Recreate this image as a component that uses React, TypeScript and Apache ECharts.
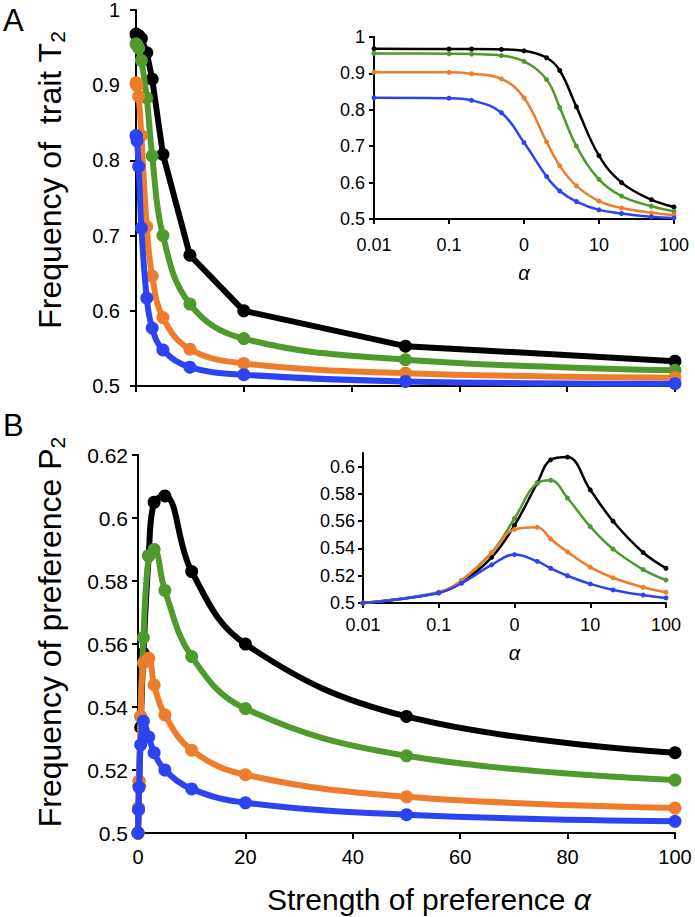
import React, { useEffect, useRef } from "react";
import * as echarts from "echarts";

// strength of preference alpha (main panels) and the same points on the log inset (0 drawn at 0.01)
const alphaMain = [0, 0.1, 0.2, 0.5, 1, 2, 3, 5, 10, 20, 50, 100];
const alphaInset = [0.01, 0.1, 0.2, 0.5, 1, 2, 3, 5, 10, 20, 50, 100];

// Panel A: frequency of trait T2
const traitBlack = [0.968, 0.967, 0.967, 0.966, 0.962, 0.943, 0.908, 0.808, 0.674, 0.6, 0.553, 0.533];
const traitGreen = [0.955, 0.954, 0.953, 0.949, 0.933, 0.883, 0.806, 0.7, 0.609, 0.563, 0.535, 0.521];
const traitOrange = [0.903, 0.903, 0.899, 0.885, 0.833, 0.712, 0.646, 0.591, 0.549, 0.53, 0.517, 0.511];
const traitBlue = [0.833, 0.832, 0.826, 0.792, 0.71, 0.617, 0.577, 0.548, 0.525, 0.515, 0.506, 0.503];

// Panel B: frequency of preference P2
const prefBlack = [0.5, 0.5075, 0.515, 0.5335, 0.557, 0.588, 0.605, 0.607, 0.583, 0.56, 0.537, 0.5255];
const prefGreen = [0.5, 0.508, 0.5165, 0.537, 0.562, 0.588, 0.59, 0.577, 0.556, 0.5395, 0.5245, 0.5168];
const prefOrange = [0.5, 0.5078, 0.5165, 0.537, 0.554, 0.5555, 0.547, 0.5375, 0.5263, 0.5185, 0.5115, 0.5079];
const prefBlue = [0.5, 0.5074, 0.5145, 0.528, 0.5355, 0.5305, 0.5255, 0.52, 0.514, 0.5096, 0.5058, 0.5037];

// tick labels
const mainXTicks = [0, 20, 40, 60, 80, 100];
const traitTicks = [0.5, 0.6, 0.7, 0.8, 0.9, 1];
const prefMainTicks = [0.5, 0.52, 0.54, 0.56, 0.58, 0.6, 0.62];
const prefInsetTicks = [0.5, 0.52, 0.54, 0.56, 0.58, 0.6];
const insetXTicks = [0.01, 0.1, 1, 10, 100];
const insetXLabels = ["0.01", "0.1", "0", "10", "100"];

const COLORS = ["#000000", "#4f9a2c", "#ee7d2b", "#2c43f4"];
const FONT = "'Liberation Sans', Arial, Helvetica, sans-serif";

const pair = (xs: number[], ys: number[]) => xs.map((x, i) => [x, ys[i]]);
const fmt = (v: number) => String(parseFloat(v.toFixed(3)));
const logLabel = (v: number) => insetXLabels[insetXTicks.findIndex((t) => Math.abs(t - v) / t < 1e-6)] ?? "";

export default function App() {
  const ref = useRef<HTMLDivElement>(null);
  useEffect(() => {
    if (!ref.current) return;
    const chart = echarts.init(ref.current, undefined, { renderer: "svg" });

    const axisLine = { show: true, lineStyle: { color: "#000", width: 2 } };
    const axisTick = (len: number) => ({ show: true, inside: false, length: len, lineStyle: { color: "#000", width: 2 } });

    const traitSets = [traitBlack, traitGreen, traitOrange, traitBlue];
    const prefSets = [prefBlack, prefGreen, prefOrange, prefBlue];

    const series: any[] = [];
    traitSets.forEach((d, i) => {
      series.push({
        type: "line", xAxisIndex: 0, yAxisIndex: 0, data: pair(alphaMain, d),
        smooth: i === 0 ? false : 0.4,
        symbol: "circle", symbolSize: 13, lineStyle: { color: COLORS[i], width: 6 },
        itemStyle: { color: COLORS[i] }, z: 2 + i,
      });
      series.push({
        type: "line", xAxisIndex: 1, yAxisIndex: 1, data: pair(alphaInset, d),
        smooth: 0.4,
        symbol: "circle", symbolSize: 5, lineStyle: { color: COLORS[i], width: 2.5 },
        itemStyle: { color: COLORS[i] }, z: 2 + i,
      });
    });
    prefSets.forEach((d, i) => {
      series.push({
        type: "line", xAxisIndex: 2, yAxisIndex: 2, data: pair(alphaMain, d),
        smooth: 0.4,
        symbol: "circle", symbolSize: 13, lineStyle: { color: COLORS[i], width: 6 },
        itemStyle: { color: COLORS[i] }, z: 2 + i,
      });
      series.push({
        type: "line", xAxisIndex: 3, yAxisIndex: 3, data: pair(alphaInset, d),
        smooth: 0.4,
        symbol: "circle", symbolSize: 5, lineStyle: { color: COLORS[i], width: 2.5 },
        itemStyle: { color: COLORS[i] }, z: 2 + i,
      });
    });

    const mainLabel = { color: "#000", fontSize: 20, fontFamily: FONT };
    const insetLabel = { color: "#000", fontSize: 18, fontFamily: FONT };
    const alphaName = { fontSize: 20, fontStyle: "italic", color: "#000", fontFamily: FONT };

    const option: any = {
      animation: false,
      backgroundColor: "#ffffff",
      textStyle: { fontFamily: FONT },
      grid: [
        { left: 136, top: 10, width: 539, height: 376 },
        { left: 374, top: 37, width: 300, height: 182 },
        { left: 138, top: 455, width: 537, height: 378 },
        { left: 363, top: 453, width: 303, height: 150 },
      ],
      xAxis: [
        {
          type: "value", gridIndex: 0, min: 0, max: 100, interval: 20,
          axisLine, axisTick: axisTick(6), splitLine: { show: false },
          axisLabel: { show: false },
        },
        {
          type: "log", gridIndex: 1, min: 0.01, max: 100, logBase: 10,
          axisLine, axisTick: { ...axisTick(5), customValues: insetXTicks }, splitLine: { show: false },
          axisLabel: { ...insetLabel, margin: 17, customValues: insetXTicks, formatter: logLabel },
          name: "α", nameLocation: "middle", nameGap: 44, nameTextStyle: alphaName,
        },
        {
          type: "value", gridIndex: 2, min: 0, max: 100, interval: 20,
          axisLine, axisTick: axisTick(6), splitLine: { show: false },
          axisLabel: { ...mainLabel, margin: 14, customValues: mainXTicks, formatter: (v: number) => fmt(v) },
        },
        {
          type: "log", gridIndex: 3, min: 0.01, max: 100, logBase: 10,
          axisLine, axisTick: { ...axisTick(5), customValues: insetXTicks }, splitLine: { show: false },
          axisLabel: { ...insetLabel, margin: 13, customValues: insetXTicks, formatter: logLabel },
          name: "α", nameLocation: "middle", nameGap: 40, nameTextStyle: alphaName,
        },
      ],
      yAxis: [
        {
          type: "value", gridIndex: 0, min: 0.5, max: 1, interval: 0.1,
          axisLine, axisTick: { ...axisTick(6), customValues: traitTicks }, splitLine: { show: false },
          axisLabel: { ...mainLabel, margin: 16, customValues: traitTicks, formatter: (v: number) => fmt(v) },
        },
        {
          type: "value", gridIndex: 1, min: 0.5, max: 1, interval: 0.1,
          axisLine, axisTick: { ...axisTick(5), customValues: traitTicks }, splitLine: { show: false },
          axisLabel: { ...insetLabel, margin: 9, customValues: traitTicks, formatter: (v: number) => fmt(v) },
        },
        {
          type: "value", gridIndex: 2, min: 0.5, max: 0.62, interval: 0.02,
          axisLine, axisTick: { ...axisTick(6), customValues: prefMainTicks }, splitLine: { show: false },
          axisLabel: { ...mainLabel, fontSize: 21, margin: 10, customValues: prefMainTicks, formatter: (v: number) => fmt(v) },
        },
        {
          type: "value", gridIndex: 3, min: 0.5, max: 0.61, interval: 0.02,
          axisLine, axisTick: { ...axisTick(5), customValues: prefInsetTicks }, splitLine: { show: false },
          axisLabel: { ...insetLabel, margin: 8, customValues: prefInsetTicks, formatter: (v: number) => fmt(v) },
        },
      ],
      graphic: [
        { type: "text", left: 3, top: 5, style: { text: "A", fontSize: 31, fill: "#000", fontFamily: FONT } },
        { type: "text", left: 3, top: 410, style: { text: "B", fontSize: 31, fill: "#000", fontFamily: FONT } },
        {
          type: "text", x: 50, y: 180, rotation: Math.PI / 2,
          style: {
            text: "{m|Frequency of  trait T}{s|2}",
            align: "center", verticalAlign: "middle", fill: "#000",
            rich: {
              m: { fontSize: 32, fontFamily: FONT, fill: "#000", lineHeight: 36 },
              s: { fontSize: 21, fontFamily: FONT, fill: "#000", verticalAlign: "bottom", lineHeight: 30 },
            },
          },
        },
        {
          type: "text", x: 50, y: 632, rotation: Math.PI / 2,
          style: {
            text: "{m|Frequency of preference P}{s|2}",
            align: "center", verticalAlign: "middle", fill: "#000",
            rich: {
              m: { fontSize: 32, fontFamily: FONT, fill: "#000", lineHeight: 36 },
              s: { fontSize: 21, fontFamily: FONT, fill: "#000", verticalAlign: "bottom", lineHeight: 30 },
            },
          },
        },
        {
          type: "text", x: 429, y: 899,
          style: {
            text: "Strength of preference {i|α}", align: "center", verticalAlign: "middle",
            fontSize: 30, fontFamily: FONT, fill: "#000",
            rich: { i: { fontSize: 30, fontStyle: "italic", fontFamily: FONT, fill: "#000" } },
          },
        },
      ],
      series,
    };
    chart.setOption(option);
    return () => chart.dispose();
  }, []);
  return <div ref={ref} style={{ position: "fixed", left: 0, top: 0, width: 695, height: 917, background: "#fff" }} />;
}
